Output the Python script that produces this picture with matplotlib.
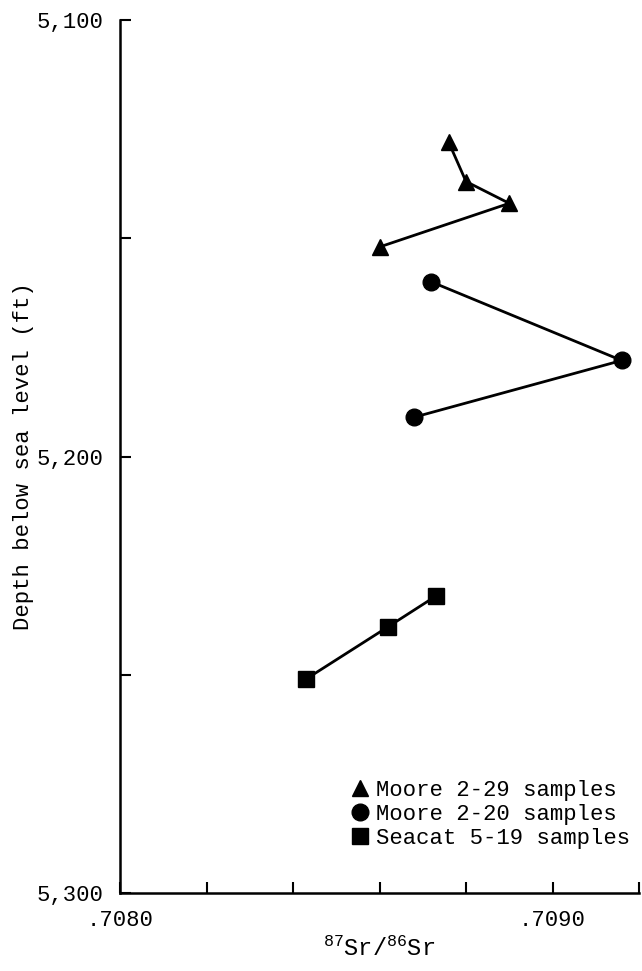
import matplotlib
matplotlib.use("Agg")
import matplotlib.pyplot as plt
from matplotlib.lines import Line2D

# Sr isotope ratios vs depth
moore229_sr = [0.70876, 0.70880, 0.70890, 0.70860]
moore229_depth = [5128, 5137, 5142, 5152]

moore220_sr = [0.70872, 0.70916, 0.70868]
moore220_depth = [5160, 5178, 5191]

seacat_sr = [0.70843, 0.70862, 0.70873]
seacat_depth = [5251, 5239, 5232]

legend_labels = ["Moore 2-29 samples", "Moore 2-20 samples", "Seacat 5-19 samples"]
y_ticks = [5100, 5150, 5200, 5250, 5300]
y_ticklabels = ["5,100", "", "5,200", "", "5,300"]
x_ticks = [0.7080, 0.7082, 0.7084, 0.7086, 0.7088, 0.7090, 0.7092]
x_ticklabels = [".7080", "", "", "", "", ".7090", ""]

plt.rcParams["font.family"] = ["Liberation Mono", "DejaVu Sans Mono"]
plt.rcParams["mathtext.fontset"] = "custom"
plt.rcParams["mathtext.rm"] = "Liberation Mono"
plt.rcParams["mathtext.it"] = "Liberation Mono"
fs = 16

fig = plt.figure(figsize=(6.42, 9.71), dpi=100)
ax = fig.add_axes([120/642, 78/971, 519/642, 873/971])

lw = 2.0
ax.plot(moore229_sr, moore229_depth, color="black", lw=lw, marker="^", ms=11, clip_on=False)
ax.plot(moore220_sr, moore220_depth, color="black", lw=lw, marker="o", ms=12, clip_on=False)
ax.plot(seacat_sr, seacat_depth, color="black", lw=lw, marker="s", ms=11, clip_on=False)

ax.set_xlim(0.7080, 0.7092)
ax.set_ylim(5300, 5100)

for side in ["top", "right"]:
    ax.spines[side].set_visible(False)
for side in ["left", "bottom"]:
    ax.spines[side].set_linewidth(1.8)

ax.set_yticks(y_ticks)
ax.set_yticklabels(y_ticklabels, fontsize=fs)
ax.set_xticks(x_ticks)
ax.set_xticklabels(x_ticklabels, fontsize=fs)
ax.tick_params(direction="in", length=8, width=1.5, pad=12)

ax.set_ylabel("Depth below sea level (ft)", fontsize=fs)
ax.yaxis.set_label_coords(-0.165, 0.5)
ax.set_xlabel(r"$^{87}$Sr/$^{86}$Sr", fontsize=fs + 1)
ax.xaxis.set_label_coords(0.5, -0.05)

handles = [
    Line2D([], [], color="black", marker="^", ls="", ms=11),
    Line2D([], [], color="black", marker="o", ls="", ms=12),
    Line2D([], [], color="black", marker="s", ls="", ms=11),
]
ax.legend(handles, legend_labels, loc="lower right", bbox_to_anchor=(1.0, 0.04),
          frameon=False, fontsize=fs, handlelength=0.8, handletextpad=0.3,
          labelspacing=0.15, borderaxespad=0)

fig.savefig("out.png", dpi=100)
